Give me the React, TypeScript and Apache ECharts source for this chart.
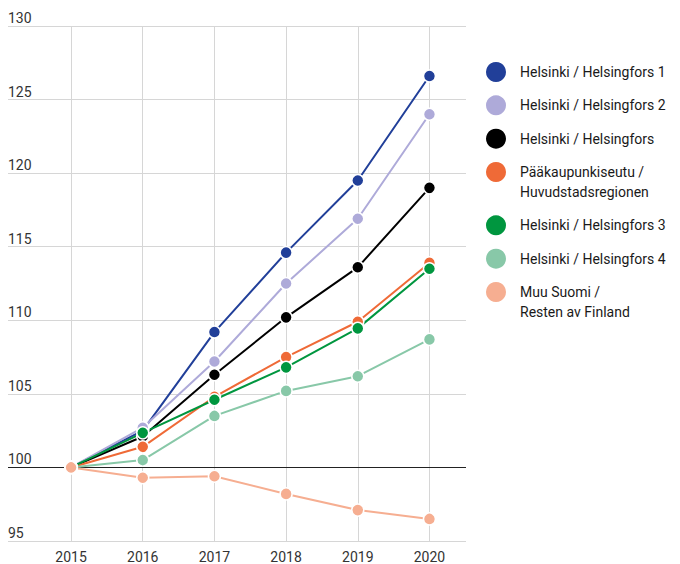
import React, { useEffect, useRef } from 'react';
import * as echarts from 'echarts';

const years = [2015, 2016, 2017, 2018, 2019, 2020];
const seriesNames = [
  'Helsinki / Helsingfors 1',
  'Helsinki / Helsingfors 2',
  'Helsinki / Helsingfors',
  'Pääkaupunkiseutu /\nHuvudstadsregionen',
  'Helsinki / Helsingfors 3',
  'Helsinki / Helsingfors 4',
  'Muu Suomi /\nResten av Finland',
];
const blue1 = [100, 102.5, 109.2, 114.6, 119.5, 126.6];
const lavender2 = [100, 102.7, 107.2, 112.5, 116.9, 124.0];
const black = [100, 102.1, 106.3, 110.2, 113.6, 119.0];
const orange = [100, 101.4, 104.8, 107.5, 109.9, 113.9];
const green3 = [100, 102.35, 104.6, 106.8, 109.45, 113.5];
const mint4 = [100, 100.5, 103.5, 105.2, 106.2, 108.7];
const peach = [100, 99.3, 99.4, 98.2, 97.1, 96.5];
const seriesValues = [blue1, lavender2, black, orange, green3, mint4, peach];
const colors = ['#213f99', '#aeaad9', '#000000', '#ef6a37', '#00963f', '#88c8a8', '#f6ae91'];
const legendCenters = [72, 105.3, 138.7, 172, 225.3, 258.7, 292];

const FONT = 'Roboto, "Liberation Sans", sans-serif';

export default function App() {
  const ref = useRef<HTMLDivElement>(null);
  useEffect(() => {
    if (!ref.current) return;
    const chart = echarts.init(ref.current, null, { renderer: 'svg' });
    const series: any[] = seriesNames.map((name, i) => ({
      name,
      type: 'line',
      data: years.map((y, j) => [y, seriesValues[i][j]]),
      symbol: 'circle',
      symbolSize: 12,
      lineStyle: { width: 2, color: colors[i] },
      itemStyle: { color: colors[i], borderColor: '#ffffff', borderWidth: 1.5 },
      emphasis: { disabled: true },
      ...(i === 0
        ? {
            markLine: {
              silent: true,
              symbol: 'none',
              label: { show: false },
              lineStyle: { color: '#222', width: 1.2, type: 'solid' },
              data: [{ yAxis: 100 }],
              z: 1,
            },
          }
        : {}),
    }));
    const legends = seriesNames.map((name, i) => {
      const twoLine = name.indexOf('\n') >= 0;
      return {
        data: [{ name }],
        left: 486,
        top: twoLine ? legendCenters[i] - 30 : legendCenters[i] - 10,
        orient: 'vertical',
        icon: 'circle',
        itemWidth: 20,
        itemHeight: 20,
        itemGap: 0,
        padding: 0,
        selectedMode: false,
        formatter: (n: string) => (twoLine ? '\n' + n : n),
        itemStyle: { borderWidth: 0 },
        textStyle: {
          fontSize: 14,
          lineHeight: 20,
          color: '#1a1a1a',
          fontFamily: FONT,
          padding: [0, 0, 0, 9],
        },
      };
    });
    chart.setOption({
      animation: false,
      grid: { left: 8, right: 214, top: 26, bottom: 23, containLabel: false },
      xAxis: {
        type: 'value',
        min: 2014.12,
        max: 2020.51,
        axisLine: { show: false },
        axisTick: { show: false },
        axisLabel: {
          fontSize: 14,
          color: '#333',
          fontFamily: FONT,
          margin: 9,
          formatter: (v: number) => (Number.isInteger(v) ? String(v) : ''),
        },
        splitLine: {
          show: true,
          showMinLine: false,
          showMaxLine: false,
          lineStyle: { color: '#d6d6d6', width: 1 },
        },
      },
      yAxis: {
        type: 'value',
        min: 95,
        max: 130,
        interval: 5,
        axisLine: { show: false },
        axisTick: { show: false },
        axisLabel: {
          inside: true,
          margin: 0,
          fontSize: 14,
          color: '#333',
          fontFamily: FONT,
          verticalAlign: 'bottom',
          padding: [0, 0, 1, 0],
        },
        splitLine: { show: true, lineStyle: { color: '#d6d6d6', width: 1 } },
      },
      legend: legends,
      series,
    });
    return () => chart.dispose();
  }, []);
  return (
    <div
      ref={ref}
      style={{ position: 'fixed', left: 0, top: 0, width: 680, height: 564, background: '#fff' }}
    />
  );
}
